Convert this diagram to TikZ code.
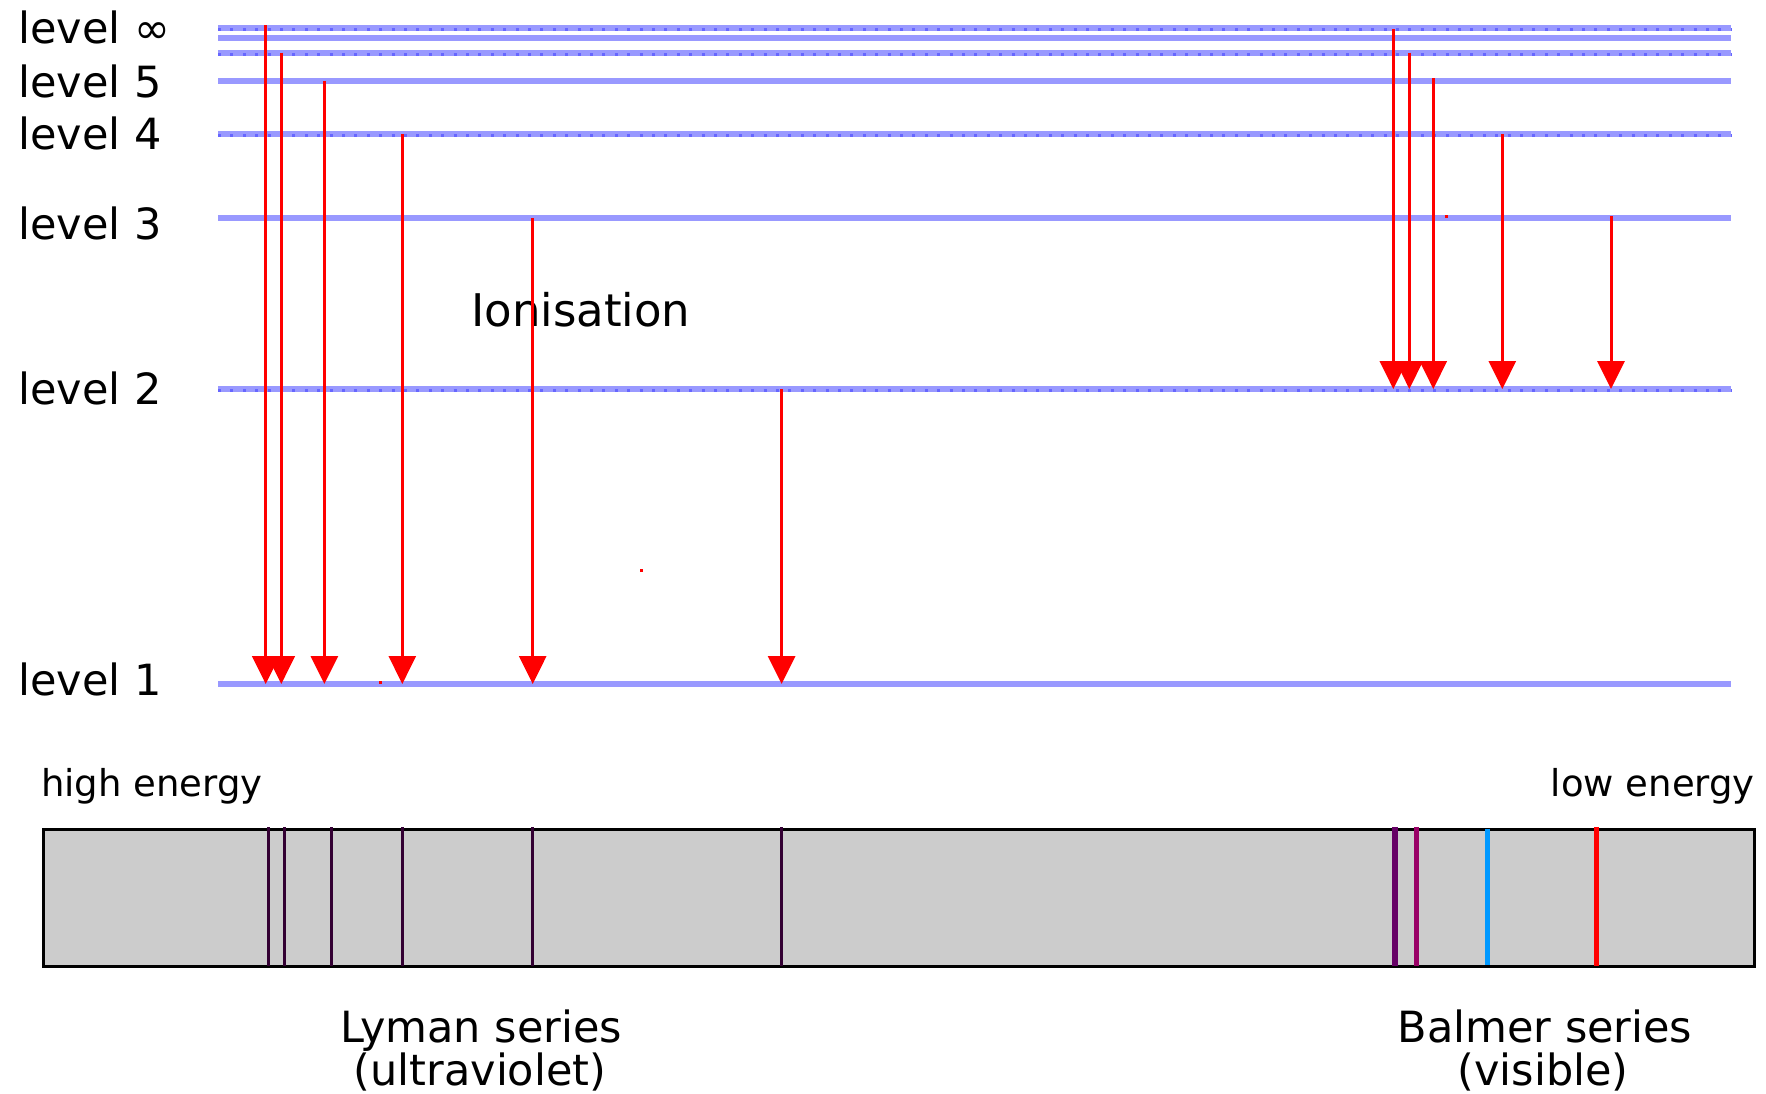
\documentclass[tikz,border=0pt]{standalone}
\usepackage{fontspec}
\setmainfont{DejaVu Sans}
\usetikzlibrary{arrows.meta}
\definecolor{lvl}{HTML}{9999FF}
\definecolor{lvldot}{HTML}{6666FF}
\definecolor{lyline}{HTML}{330033}
\definecolor{bviolet}{HTML}{660066}
\definecolor{bmagenta}{HTML}{990066}
\definecolor{bcyan}{HTML}{0099FF}
\definecolor{bred}{HTML}{FF0000}
\definecolor{specgray}{HTML}{CCCCCC}
\tikzset{
  levelline/.style={draw=lvl, line width=6pt},
  leveldots/.style={draw=lvldot, line width=3pt, dash pattern=on 3pt off 9.4pt},
  transition/.style={draw=red, line width=3pt, -{Triangle[length=28pt,width=27pt]}},
  biglabel/.style={font=\fontsize{43}{43}\selectfont, inner sep=0pt, text=black},
  smalllabel/.style={font=\fontsize{37}{37}\selectfont, inner sep=0pt, text=black},
  specbox/.style={fill=specgray, draw=black, line width=3pt},
  specline/.style={line width=#1},
  speck/.style={fill=red}
}
\begin{document}
\begin{tikzpicture}[x=1pt,y=-1pt]
\useasboundingbox (0,0) rectangle (1766,1093);

% level lines
\foreach \name/\yy in {inf1/28.3, inf2/37.8, inf3/52.7, five/80.8, four/134, three/218, two/389, one/684}{
  \coordinate (\name w) at (218,\yy);
  \coordinate (\name e) at (1731,\yy);
  \draw[levelline] (\name w) -- (\name e);
}
\foreach \name in {inf1, inf3, four, two}{
  \draw[leveldots] ([yshift=-1.5pt]\name w) -- ([yshift=-1.5pt]\name e);
}

% level labels
\node[biglabel, anchor=base west] (linf) at (18,43) {level ∞};
\node[biglabel, anchor=base west] (l5) at (18,97) {level 5};
\node[biglabel, anchor=base west] (l4) at (18,149) {level 4};
\node[biglabel, anchor=base west] (l3) at (18,239) {level 3};
\node[biglabel, anchor=base west] (l2) at (18,404) {level 2};
\node[biglabel, anchor=base west] (l1) at (18,695) {level 1};

\node[biglabel, font=\fontsize{45}{45}\selectfont, anchor=base west] (ion) at (471,326) {Ionisation};

% Lyman transitions
\foreach \i/\xx/\ys in {1/265.7/25, 2/281.3/52.7, 3/324.4/80.8, 4/402.3/134, 5/532.7/218, 6/781.6/389}{
  \coordinate (lyS\i) at (\xx,\ys);
  \coordinate (lyE\i) at (\xx,684);
  \draw[transition] (lyS\i) -- (lyE\i);
}
% Balmer transitions
\foreach \i/\xx/\ys in {1/1393.3/29, 2/1409.3/52.7, 3/1433.3/78, 4/1502.3/134, 5/1611/216}{
  \coordinate (baS\i) at (\xx,\ys);
  \coordinate (baE\i) at (\xx,389);
  \draw[transition] (baS\i) -- (baE\i);
}

% stray specks
\fill[speck] (1444.5,214.5) rectangle ++(3,3);
\fill[speck] (639.5,568.5) rectangle ++(3,3);
\fill[speck] (379,680.5) rectangle ++(3,3);

% energy labels
\node[smalllabel, anchor=base west] (hi) at (41,796) {high energy};
\node[smalllabel, anchor=base east] (lo) at (1755,796) {low energy};

% spectrum
\node[specbox, minimum width=1711pt, minimum height=137pt, anchor=north west, inner sep=0pt] (spec) at (41.7,828) {};
\foreach \xx in {268.6, 284.3, 331.4, 402.5, 532.9, 781}{
  \draw[specline=3pt, draw=lyline] (\xx,827) -- (\xx,966);
}
\draw[specline=5.5pt, draw=bviolet] (1395,827) -- (1395,966);
\draw[specline=5.5pt, draw=bmagenta] (1416.7,827) -- (1416.7,966);
\draw[specline=5.5pt, draw=bcyan] (1487.7,828.5) -- (1487.7,964.5);
\draw[specline=5.5pt, draw=bred] (1596.7,827) -- (1596.7,966);

% series labels
\node[biglabel, anchor=base] (lyman) at (481,1042) {Lyman series};
\node[biglabel, anchor=base] (lymanuv) at (480,1085) {(ultraviolet)};
\node[biglabel, anchor=base] (balmer) at (1545,1042) {Balmer series};
\node[biglabel, anchor=base] (balmervis) at (1543,1085) {(visible)};
\end{tikzpicture}
\end{document}
